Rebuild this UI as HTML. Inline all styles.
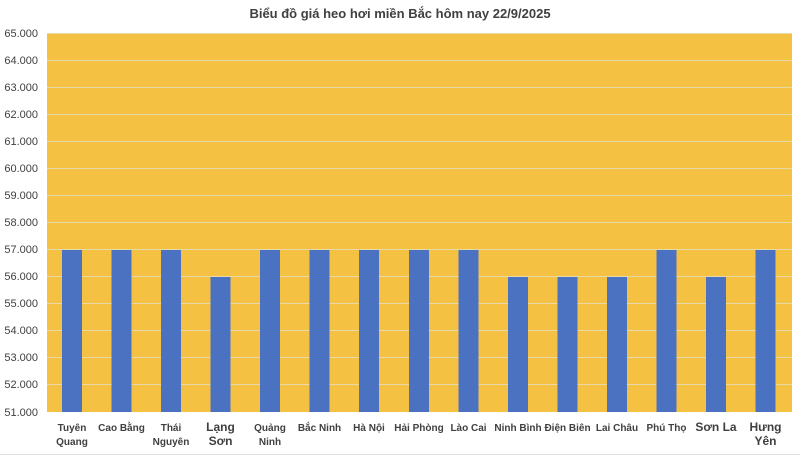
<!DOCTYPE html>
<html><head><meta charset="utf-8"><style>
body{margin:0;background:#fff;}
svg{display:block;font-family:"Liberation Sans","DejaVu Sans",sans-serif;}
</style></head><body>
<svg width="800" height="456" xmlns="http://www.w3.org/2000/svg">
<rect width="800" height="456" fill="#fff"/>
<text x="400" y="18" text-anchor="middle" font-size="13" font-weight="bold" fill="#404040">Biểu đồ giá heo hơi miền Bắc hôm nay 22/9/2025</text>
<rect x="47" y="33" width="745" height="379" fill="#F4C142"/>
<g stroke="#E8D9A8" stroke-width="1">
<line x1="47" x2="792" y1="33.5" y2="33.5"/><line x1="47" x2="792" y1="60.5" y2="60.5"/><line x1="47" x2="792" y1="87.5" y2="87.5"/><line x1="47" x2="792" y1="114.5" y2="114.5"/><line x1="47" x2="792" y1="141.5" y2="141.5"/><line x1="47" x2="792" y1="168.5" y2="168.5"/><line x1="47" x2="792" y1="195.5" y2="195.5"/><line x1="47" x2="792" y1="222.5" y2="222.5"/><line x1="47" x2="792" y1="249.5" y2="249.5"/><line x1="47" x2="792" y1="276.5" y2="276.5"/><line x1="47" x2="792" y1="303.5" y2="303.5"/><line x1="47" x2="792" y1="330.5" y2="330.5"/><line x1="47" x2="792" y1="357.5" y2="357.5"/><line x1="47" x2="792" y1="384.5" y2="384.5"/>
</g>
<g font-size="11" fill="#404040" text-anchor="end">
<text x="38" y="37">65.000</text><text x="38" y="64">64.000</text><text x="38" y="91">63.000</text><text x="38" y="118">62.000</text><text x="38" y="145">61.000</text><text x="38" y="172">60.000</text><text x="38" y="199">59.000</text><text x="38" y="226">58.000</text><text x="38" y="253">57.000</text><text x="38" y="280">56.000</text><text x="38" y="307">55.000</text><text x="38" y="334">54.000</text><text x="38" y="361">53.000</text><text x="38" y="388">52.000</text><text x="38" y="416">51.000</text>
</g>
<g fill="#4A72C0">
<rect x="62" y="250" width="20" height="162"/>
<rect x="111.5" y="250" width="20" height="162"/>
<rect x="161" y="250" width="20" height="162"/>
<rect x="210.5" y="277" width="20" height="135"/>
<rect x="260" y="250" width="20" height="162"/>
<rect x="309.5" y="250" width="20" height="162"/>
<rect x="359" y="250" width="20" height="162"/>
<rect x="409" y="250" width="20" height="162"/>
<rect x="458.5" y="250" width="20" height="162"/>
<rect x="508" y="277" width="20" height="135"/>
<rect x="557.5" y="277" width="20" height="135"/>
<rect x="607" y="277" width="20" height="135"/>
<rect x="656.5" y="250" width="20" height="162"/>
<rect x="706" y="277" width="20" height="135"/>
<rect x="755.5" y="250" width="20" height="162"/>
</g>
<g font-size="10" font-weight="bold" fill="#404040" text-anchor="middle">
<text x="72" y="431">Tuyên</text><text x="72" y="445">Quang</text>
<text x="121.5" y="431">Cao Bằng</text>
<text x="171" y="431">Thái</text><text x="171" y="445">Nguyên</text>
<text x="220.5" y="431" font-size="12">Lạng</text><text x="220.5" y="445" font-size="12">Sơn</text>
<text x="270" y="431">Quảng</text><text x="270" y="445">Ninh</text>
<text x="319.5" y="431">Bắc Ninh</text>
<text x="369" y="431">Hà Nội</text>
<text x="419" y="431">Hải Phòng</text>
<text x="468.5" y="431">Lào Cai</text>
<text x="518" y="431">Ninh Bình</text>
<text x="567.5" y="431">Điện Biên</text>
<text x="617" y="431">Lai Châu</text>
<text x="666.5" y="431">Phú Thọ</text>
<text x="716" y="431" font-size="12">Sơn La</text>
<text x="765.5" y="431" font-size="12">Hưng</text><text x="765.5" y="445" font-size="12">Yên</text>
</g>
<line x1="0" x2="800" y1="454.5" y2="454.5" stroke="#e0e0e0"/>
</svg>
</body></html>
